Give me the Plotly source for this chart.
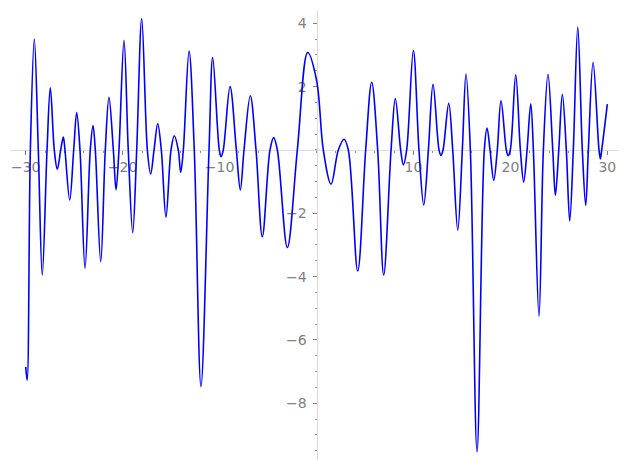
import plotly.graph_objects as go

# Curve samples (extrema and zero crossings)
x_vals = [-30.00, -29.85, -29.52, -29.11, -28.70, -28.29, -27.80, -27.46, -27.05, -26.74,
          -26.39, -26.12, -25.95, -25.46, -25.05, -24.74, -24.40, -23.88, -23.34, -23.06,
          -22.82, -22.26, -21.79, -21.41, -20.96, -20.68, -20.38, -19.86, -19.42, -18.96,
          -18.55, -18.03, -17.45, -17.11, -16.76, -16.38, -16.01, -15.53, -15.01, -14.67,
          -14.26, -14.01, -13.74, -13.15, -12.61, -11.92, -11.09, -10.71, -10.03, -9.85,
          -9.62, -8.92, -8.27, -7.86, -7.48, -6.83, -6.24, -5.59, -4.80, -4.42,
          -4.04, -3.01, -1.98, -0.91, 0.00, 0.70, 1.50, 2.25, 2.84, 3.28,
          4.25, 5.07, 5.69, 6.31, 6.93, 7.69, 8.13, 8.68, 8.96, 9.30,
          9.99, 10.57, 11.06, 11.54, 12.02, 12.64, 12.84, 13.05, 13.64, 14.05,
          14.57, 15.04, 15.42, 15.87, 16.56, 17.31, 17.59, 17.90, 18.28, 18.65,
          19.03, 19.58, 19.76, 19.99, 20.55, 21.03, 21.37, 21.72, 22.10, 22.37,
          22.95, 23.40, 23.88, 24.37, 24.64, 24.99, 25.36, 25.77, 26.12, 26.49,
          26.95, 27.42, 27.77, 28.04, 28.53, 29.14, 29.28, 29.42, 30.00]
y_vals = [-6.85, -7.27, 0.00, 3.50, 0.00, -3.95, 0.00, 1.96, 0.00, -0.61,
          0.00, 0.41, 0.00, -1.58, 0.00, 1.18, 0.00, -3.74, 0.00, 0.77,
          0.00, -3.53, 0.00, 1.66, 0.00, -1.26, 0.00, 3.46, 0.00, -2.61,
          0.00, 4.15, 0.00, -0.76, 0.00, 0.83, 0.00, -2.12, 0.00, 0.45,
          0.00, -0.71, 0.00, 3.12, 0.00, -7.47, 0.00, 2.92, 0.00, -0.21,
          0.00, 2.00, 0.00, -1.26, 0.00, 1.71, 0.00, -2.74, 0.00, 0.39,
          0.00, -3.08, 0.00, 3.08, 2.21, 0.00, -1.08, 0.00, 0.34, 0.00,
          -3.82, 0.00, 2.14, 0.00, -3.95, 0.00, 1.62, 0.00, -0.47, 0.00,
          3.14, 0.00, -1.74, 0.00, 2.07, 0.00, -0.17, 0.00, 1.47, 0.00,
          -2.53, 0.00, 2.40, 0.00, -9.53, 0.00, 0.69, 0.00, -0.96, 0.00,
          1.56, 0.00, -0.18, 0.00, 2.37, 0.00, -1.01, 0.00, 1.46, 0.00,
          -5.26, 0.00, 2.39, 0.00, -1.43, 0.00, 1.76, 0.00, -2.24, 0.00,
          3.88, 0.00, -1.75, 0.00, 2.77, 0.00, -0.28, 0.00, 1.45]

x_ticks = [-30, -20, -10, 10, 20, 30]
x_tick_labels = ["\u221230", "\u221220", "\u221210", "10", "20", "30"]
y_ticks = [-8, -6, -4, -2, 2, 4]
y_tick_labels = ["\u22128", "\u22126", "\u22124", "\u22122", "2", "4"]

x_range = [-31.62, 31.10]
y_range = [-9.79, 4.42]

x_zero_pos = (0 - x_range[0]) / (x_range[1] - x_range[0])
y_zero_pos = (0 - y_range[0]) / (y_range[1] - y_range[0])

fig = go.Figure()
fig.add_trace(go.Scatter(
    x=x_vals, y=y_vals, mode="lines",
    line=dict(color="#0000ff", width=1.6, shape="spline", smoothing=1.0),
    showlegend=False, hoverinfo="skip",
))

axis_font = dict(family="DejaVu Sans", size=14, color="#808080")
fig.update_layout(
    width=627, height=470,
    margin=dict(l=10, r=9, t=10, b=10),
    paper_bgcolor="white", plot_bgcolor="white",
    xaxis=dict(
        range=x_range, showgrid=False, zeroline=False, automargin=False,
        showline=True, linecolor="#dcdcdc", linewidth=1,
        anchor="free", position=y_zero_pos,
        tickmode="array", tickvals=x_ticks, ticktext=x_tick_labels,
        ticks="outside", ticklen=4, tickcolor="#808080", tickwidth=1,
        tickfont=axis_font, layer="below traces",
        minor=dict(dtick=2, tick0=0, ticks="outside", ticklen=2, tickcolor="#909090", showgrid=False),
    ),
    yaxis=dict(
        range=y_range, showgrid=False, zeroline=False, automargin=False,
        showline=True, linecolor="#dcdcdc", linewidth=1,
        anchor="free", position=x_zero_pos,
        tickmode="array", tickvals=y_ticks, ticktext=y_tick_labels,
        ticks="outside", ticklen=4, tickcolor="#808080", tickwidth=1,
        tickfont=axis_font, layer="below traces", ticklabelstandoff=3,
        minor=dict(dtick=0.5, tick0=0, ticks="outside", ticklen=2, tickcolor="#909090", showgrid=False),
    ),
)

fig.write_html("out.html", config={"displayModeBar": False},
               post_script="document.body.style.margin='0px';")
